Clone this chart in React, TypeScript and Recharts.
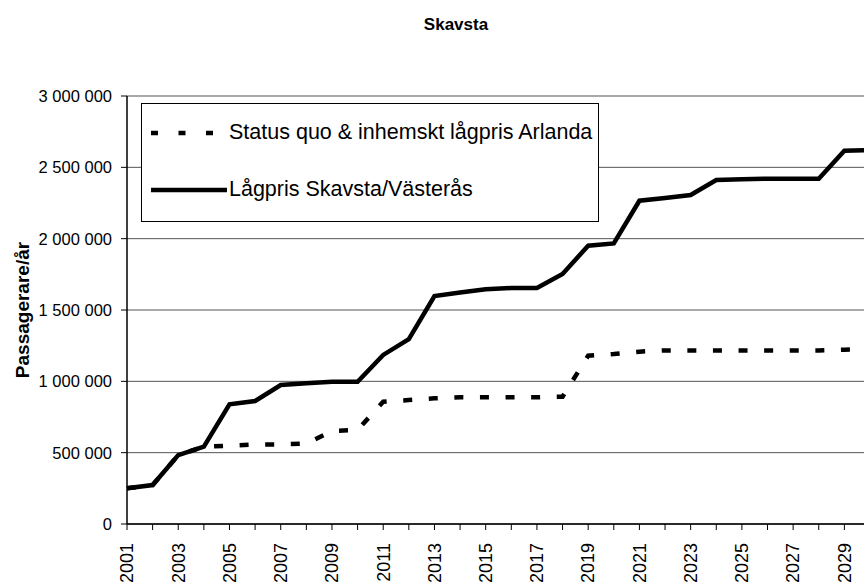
import { LineChart, Line, XAxis, YAxis, CartesianGrid, Legend } from 'recharts';

const years = [
  2001, 2002, 2003, 2004, 2005, 2006, 2007, 2008, 2009, 2010,
  2011, 2012, 2013, 2014, 2015, 2016, 2017, 2018, 2019, 2020,
  2021, 2022, 2023, 2024, 2025, 2026, 2027, 2028, 2029, 2030,
];

// Status quo & inhemskt lågpris Arlanda
const statusQuo = [
  250000, 273000, 483000, 542000, 549000, 558000, 558000, 563000, 652000, 659000,
  857000, 869000, 881000, 888000, 888000, 888000, 888000, 892000, 1180000, 1192000,
  1208000, 1217000, 1217000, 1217000, 1217000, 1217000, 1217000, 1217000, 1222000, 1225000,
];

// Lågpris Skavsta/Västerås
const lagpris = [
  250000, 273000, 483000, 542000, 839000, 862000, 974000, 986000, 997000, 997000,
  1185000, 1295000, 1598000, 1622000, 1645000, 1654000, 1654000, 1752000, 1951000, 1967000,
  2266000, 2285000, 2306000, 2411000, 2416000, 2420000, 2420000, 2420000, 2616000, 2620000,
];

const yTicks = [0, 500000, 1000000, 1500000, 2000000, 2500000, 3000000];

const seriesNames = ['Status quo & inhemskt lågpris Arlanda', 'Lågpris Skavsta/Västerås'];

const data = years.map((year, i) => ({ year, statusQuo: statusQuo[i], lagpris: lagpris[i] }));

const FONT = '"Liberation Sans", Arial, sans-serif';

// 3000000 -> "3 000 000"
const formatNumber = (v: number) => String(v).replace(/\B(?=(\d{3})+(?!\d))/g, ' ');

const YearTick = ({ x, y, payload }: any) => {
  if (payload.value % 2 === 0) return null;
  const ty = y + 11;
  return (
    <text
      x={x}
      y={ty}
      transform={`rotate(-90, ${x}, ${ty})`}
      textAnchor="end"
      dy="0.35em"
      fontSize={18}
      fontFamily={FONT}
      fill="#000"
    >
      {payload.value}
    </text>
  );
};

const LegendBox = () => (
  <div
    style={{
      boxSizing: 'border-box',
      width: 458,
      height: 119,
      border: '1px solid #000',
      background: '#fff',
      fontFamily: FONT,
      fontSize: 21.5,
      color: '#000',
      position: 'relative',
    }}
  >
    {seriesNames.map((name, i) => (
      <div
        key={name}
        style={{ position: 'absolute', left: 7, top: i === 0 ? 16 : 73, display: 'flex', alignItems: 'center', whiteSpace: 'nowrap' }}
      >
        <svg width={80} height={24}>
          <line
            x1={2}
            y1={12}
            x2={i === 0 ? 72 : 78}
            y2={12}
            stroke="#000"
            strokeWidth={4.5}
            strokeDasharray={i === 0 ? '7 20.5' : undefined}
          />
        </svg>
        <span>{name}</span>
      </div>
    ))}
  </div>
);

export default function App() {
  return (
    <div
      style={{
        position: 'absolute',
        left: 0,
        top: 0,
        width: 864,
        height: 585,
        overflow: 'hidden',
        background: '#fff',
      }}
    >
      <div
        style={{
          position: 'absolute',
          left: 356,
          top: 15,
          width: 200,
          textAlign: 'center',
          fontFamily: FONT,
          fontWeight: 'bold',
          fontSize: 17,
          color: '#000',
        }}
      >
        Skavsta
      </div>
      <LineChart
        width={880}
        height={585}
        data={data}
        margin={{ top: 96, right: 10, bottom: 5, left: 0 }}
      >
        <CartesianGrid vertical={false} stroke="#555" strokeWidth={1} />
        <XAxis
          dataKey="year"
          type="number"
          domain={[2001, 2030]}
          ticks={years}
          interval={0}
          height={56}
          tickSize={6}
          tick={<YearTick />}
          axisLine={{ stroke: '#000', strokeWidth: 1.5 }}
          tickLine={{ stroke: '#000' }}
        />
        <YAxis
          width={127}
          domain={[0, 3000000]}
          ticks={yTicks}
          interval={0}
          tickFormatter={formatNumber}
          tickSize={6}
          tickMargin={9}
          tick={{ fontSize: 16.5, fontFamily: FONT, fill: '#000' }}
          axisLine={{ stroke: '#000', strokeWidth: 1.5 }}
          tickLine={{ stroke: '#000' }}
          label={{
            content: () => (
              <text
                x={22}
                y={310}
                transform="rotate(-90, 22, 310)"
                textAnchor="middle"
                dy="0.35em"
                fontSize={19}
                fontWeight="bold"
                fontFamily={FONT}
                fill="#000"
              >
                Passagerare/år
              </text>
            ),
          }}
        />
        <Legend
          layout="horizontal"
          verticalAlign="middle"
          align="center"
          content={() => <LegendBox />}
          wrapperStyle={{ left: 141, top: 103, width: 458, height: 119 }}
        />
        <Line
          type="linear"
          dataKey="statusQuo"
          name={seriesNames[0]}
          stroke="#000"
          strokeWidth={4.5}
          strokeDasharray="9 16.6"
          dot={false}
          isAnimationActive={false}
        />
        <Line
          type="linear"
          dataKey="lagpris"
          name={seriesNames[1]}
          stroke="#000"
          strokeWidth={4.5}
          dot={false}
          isAnimationActive={false}
        />
      </LineChart>
    </div>
  );
}
